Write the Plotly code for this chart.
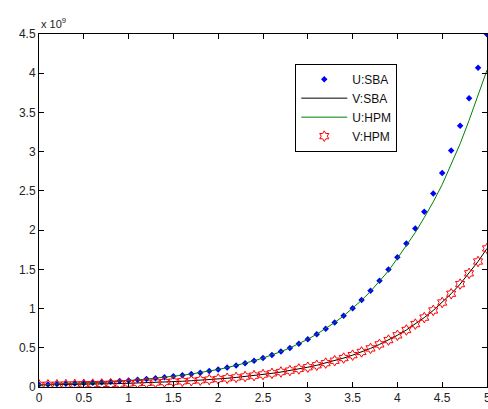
import plotly.graph_objects as go

# x grid (0 to 5, step 0.1)
x = [round(i * 0.1, 1) for i in range(51)]

# values in units of 1e9
u_sba = [0.030, 0.033, 0.037, 0.041, 0.045, 0.050, 0.055, 0.061, 0.067, 0.075,
         0.082, 0.091, 0.101, 0.111, 0.123, 0.136, 0.150, 0.166, 0.183, 0.203,
         0.224, 0.247, 0.273, 0.302, 0.334, 0.369, 0.408, 0.451, 0.498, 0.551,
         0.609, 0.673, 0.743, 0.822, 0.908, 1.003, 1.109, 1.226, 1.354, 1.497,
         1.654, 1.828, 2.021, 2.233, 2.468, 2.728, 3.014, 3.331, 3.682, 4.069,
         4.497]

u_hpm = [0.030, 0.033, 0.037, 0.041, 0.045, 0.050, 0.055, 0.061, 0.067, 0.075,
         0.082, 0.091, 0.101, 0.111, 0.123, 0.136, 0.150, 0.166, 0.183, 0.203,
         0.224, 0.247, 0.273, 0.302, 0.334, 0.369, 0.408, 0.451, 0.498, 0.551,
         0.609, 0.673, 0.743, 0.822, 0.907, 1.001, 1.105, 1.219, 1.343, 1.480,
         1.640, 1.800, 1.970, 2.160, 2.360, 2.580, 2.830, 3.100, 3.400, 3.710,
         4.040]

v_sba = [0.027, 0.028, 0.029, 0.031, 0.033, 0.035, 0.037, 0.039, 0.041, 0.044,
         0.047, 0.050, 0.054, 0.058, 0.063, 0.068, 0.073, 0.080, 0.086, 0.094,
         0.102, 0.111, 0.122, 0.133, 0.145, 0.159, 0.174, 0.191, 0.209, 0.230,
         0.252, 0.277, 0.305, 0.335, 0.369, 0.406, 0.447, 0.492, 0.543, 0.598,
         0.659, 0.727, 0.802, 0.885, 0.976, 1.077, 1.189, 1.312, 1.449, 1.600,
         1.766]

v_hpm = list(v_sba)

x_ticks = [0, 0.5, 1, 1.5, 2, 2.5, 3, 3.5, 4, 4.5, 5]
x_labels = ["0", "0.5", "1", "1.5", "2", "2.5", "3", "3.5", "4", "4.5", "5"]
y_ticks = [0, 0.5, 1, 1.5, 2, 2.5, 3, 3.5, 4, 4.5]
y_labels = ["0", "0.5", "1", "1.5", "2", "2.5", "3", "3.5", "4", "4.5"]

FAM = "Liberation Sans, Arial, sans-serif"
font = dict(family=FAM, size=12, color="#222222")

fig = go.Figure()
fig.add_trace(go.Scatter(x=x, y=u_sba, mode="markers", name="U:SBA",
                         marker=dict(symbol="diamond", size=5, color="#0000ff")))
fig.add_trace(go.Scatter(x=x, y=v_sba, mode="lines", name="V:SBA",
                         line=dict(color="#000000", width=1)))
fig.add_trace(go.Scatter(x=x, y=u_hpm, mode="lines", name="U:HPM",
                         line=dict(color="#008000", width=1)))
fig.add_trace(go.Scatter(x=x, y=v_hpm, mode="markers", name="V:HPM",
                         marker=dict(symbol="hexagram-open", size=8, color="#ff0000",
                                     line=dict(color="#ff0000", width=1))))

axis_common = dict(showgrid=False, zeroline=False, showline=True, mirror="ticks",
                   linecolor="#000000", linewidth=1, ticks="inside", ticklen=5,
                   tickcolor="#000000", tickfont=font)

fig.update_xaxes(range=[0, 5], tickvals=x_ticks, ticktext=x_labels, **axis_common)
fig.update_yaxes(range=[0, 4.5], tickvals=y_ticks, ticktext=y_labels,
                 ticklabelstandoff=0, **axis_common)

fig.add_annotation(text="x 10<sup>9</sup>", xref="paper", yref="paper", x=0, y=1,
                   xanchor="left", yanchor="bottom", yshift=2, showarrow=False,
                   font=dict(family=FAM, size=11, color="#222222"))

# last x tick label sits on the right edge and is partly cut, as in the reference
fig.add_annotation(text=x_labels[-1], xref="x", yref="paper", x=x_ticks[-1], y=0,
                   xanchor="center", yanchor="top", yshift=-2, showarrow=False,
                   font=font)

fig.update_layout(
    width=488, height=409,
    margin=dict(l=39, r=1, t=34, b=22),
    paper_bgcolor="white", plot_bgcolor="white",
    font=font,
    showlegend=True,
    legend=dict(x=0.572, y=0.916, xanchor="left", yanchor="top",
                bgcolor="white", bordercolor="#000000", borderwidth=1,
                font=dict(family=FAM, size=12, color="#111111"),
                tracegroupgap=0, itemwidth=46),
)

fig.write_html("out.html", config={"displayModeBar": False})

with open("out.html", "r", encoding="utf-8") as f:
    html = f.read()
html = html.replace("<head>", "<head><style>html,body{margin:0;padding:0;overflow:hidden;}</style>", 1)
with open("out.html", "w", encoding="utf-8") as f:
    f.write(html)
